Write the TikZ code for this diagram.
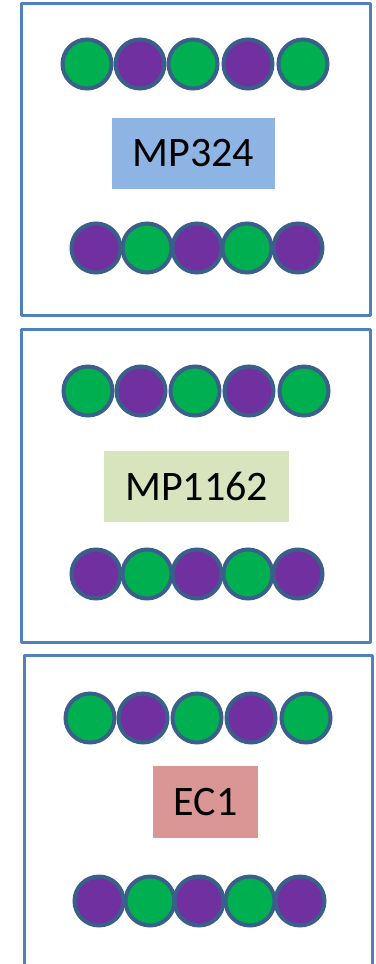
\documentclass[tikz,border=0pt]{standalone}
\usepackage{fontspec}
\setmainfont{Carlito}
\usetikzlibrary{positioning}

\definecolor{frameblue}{HTML}{4F81BD}
\definecolor{beadedge}{HTML}{3A5F8B}
\definecolor{grn}{HTML}{00B050}
\definecolor{prp}{HTML}{7030A0}
\definecolor{tagblue}{HTML}{8EB4E3}
\definecolor{taggreen}{HTML}{D7E4BD}
\definecolor{tagred}{HTML}{D99694}

\begin{document}
\begin{tikzpicture}[x=1pt,y=-1pt,
    panel/.style={draw=frameblue, line width=3pt, line join=round},
    bead/.style={circle, draw=beadedge, line width=4pt, minimum size=49pt, inner sep=0pt},
    tag/.style={inner sep=0pt, minimum height=71pt, font=\fontsize{42}{42}\selectfont}]
    \useasboundingbox (0,0) rectangle (375,964);
    \clip (0,0) rectangle (375,964);
    % frames
    \draw[panel] (21,3) rectangle (370,315);
    \draw[panel] (21,329) rectangle (370,642);
    \draw[panel] (24,655) rectangle (372,990);
    % first frame
    \foreach \x/\c [count=\i] in {87/grn,140/prp,193/grn,248/prp,303/grn}
        \node[bead, fill=\c] (mpa\i) at (\x,64) {};
    \node[tag, fill=tagblue, minimum width=163pt] (mp324) at (193.5,153.5) {MP324};
    \foreach \x/\c [count=\i] in {96/prp,147/grn,197/prp,247/grn,298/prp}
        \node[bead, fill=\c] (mpb\i) at (\x,248) {};
    % second frame
    \foreach \x/\c [count=\i] in {88/grn,141/prp,195/grn,249/prp,304/grn}
        \node[bead, fill=\c] (mpc\i) at (\x,391) {};
    \node[tag, fill=taggreen, minimum width=185pt] (mp1162) at (196.5,486.5) {MP1162};
    \foreach \x/\c [count=\i] in {96/prp,147/grn,197/prp,248/grn,298/prp}
        \node[bead, fill=\c] (mpd\i) at (\x,574) {};
    % third frame
    \foreach \x/\c [count=\i] in {90/grn,143/prp,197/grn,251/prp,306/grn}
        \node[bead, fill=\c] (eca\i) at (\x,718) {};
    \node[tag, fill=tagred, minimum width=105pt, minimum height=72pt] (ec1) at (205.5,802) {EC1};
    \foreach \x/\c [count=\i] in {99/prp,150/grn,199/prp,250/grn,300/prp}
        \node[bead, fill=\c] (ecb\i) at (\x,901) {};
\end{tikzpicture}
\end{document}
